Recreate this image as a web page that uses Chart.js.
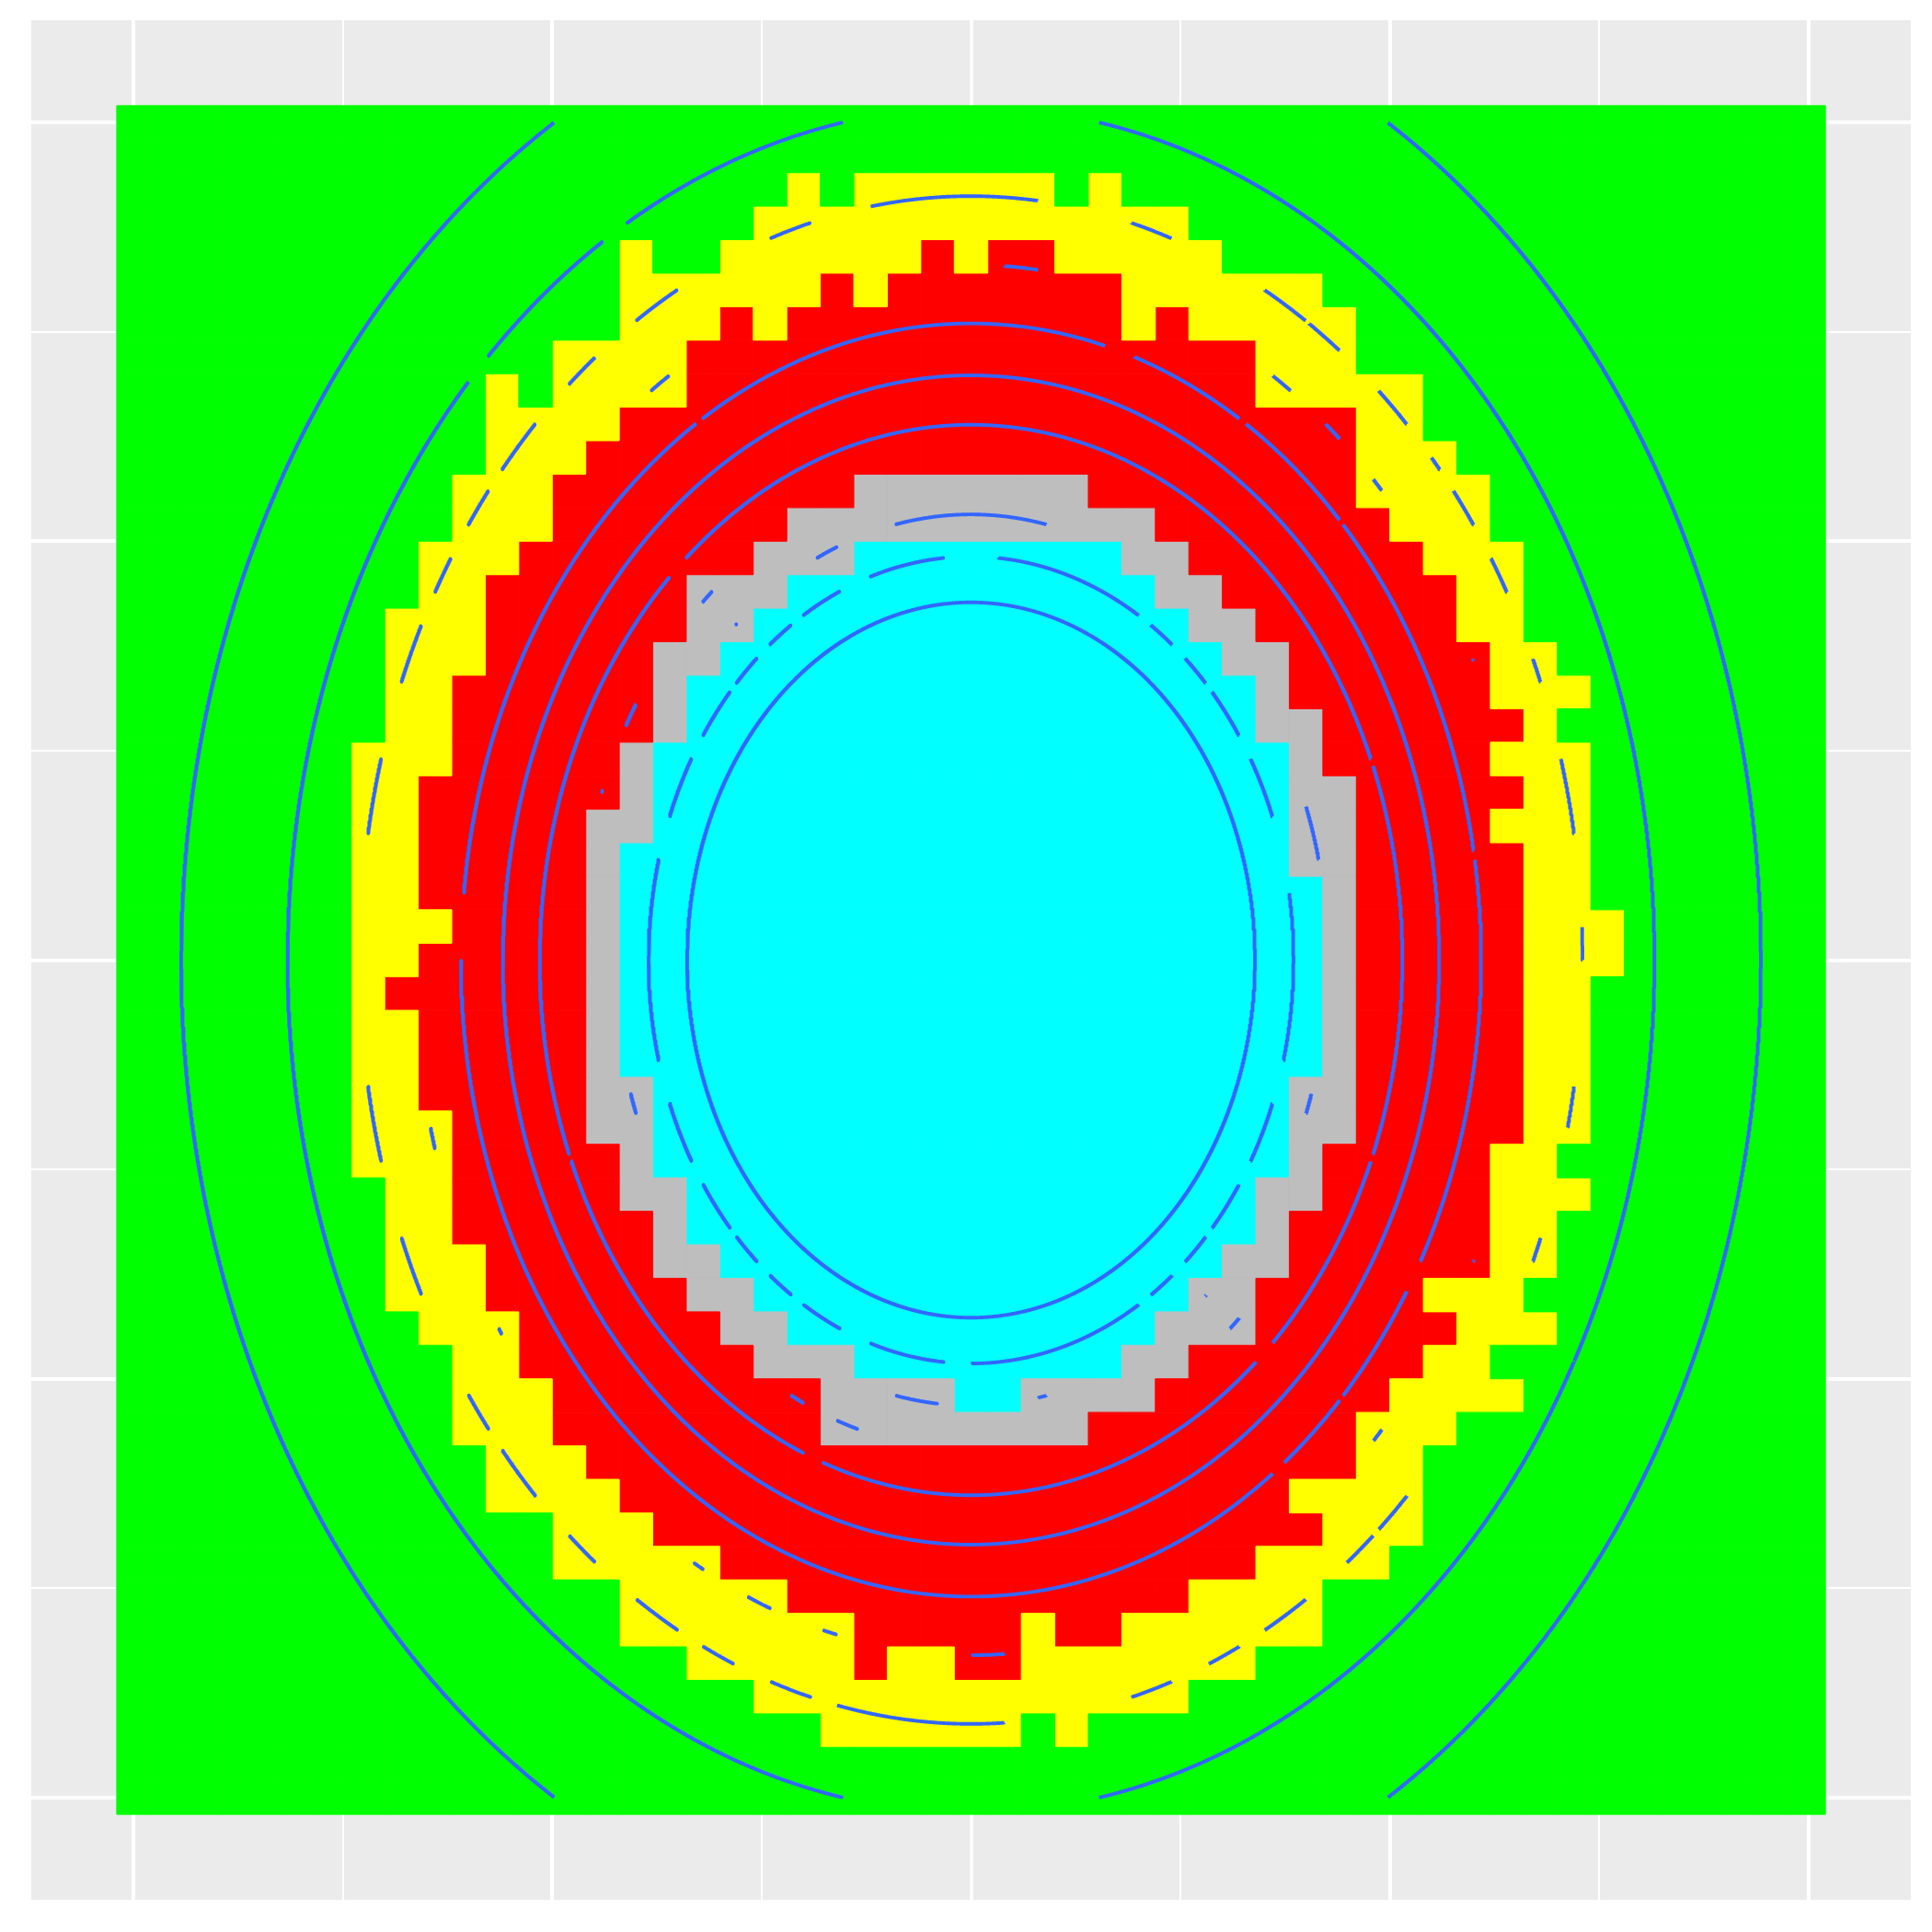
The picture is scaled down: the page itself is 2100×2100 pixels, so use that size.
<!DOCTYPE html>
<html>
<head>
<meta charset="utf-8">
<script src="https://cdn.jsdelivr.net/npm/chart.js@4.4.0/dist/chart.umd.min.js"></script>
<style>
html,body{margin:0;padding:0;background:#ffffff;}
canvas{display:block;}
</style>
</head>
<body>
<canvas id="c" width="2100" height="2100" style="width:2100px;height:2100px"></canvas>
<script>
// ---------------- data ----------------
const xCenters = [-1.00,-0.96,-0.92,-0.88,-0.84,-0.80,-0.76,-0.72,-0.68,-0.64,-0.60,-0.56,-0.52,-0.48,-0.44,-0.40,-0.36,-0.32,-0.28,-0.24,-0.20,-0.16,-0.12,-0.08,-0.04,0.00,0.04,0.08,0.12,0.16,0.20,0.24,0.28,0.32,0.36,0.40,0.44,0.48,0.52,0.56,0.60,0.64,0.68,0.72,0.76,0.80,0.84,0.88,0.92,0.96,1.00];
const yCenters = [1.00,0.96,0.92,0.88,0.84,0.80,0.76,0.72,0.68,0.64,0.60,0.56,0.52,0.48,0.44,0.40,0.36,0.32,0.28,0.24,0.20,0.16,0.12,0.08,0.04,0.00,-0.04,-0.08,-0.12,-0.16,-0.20,-0.24,-0.28,-0.32,-0.36,-0.40,-0.44,-0.48,-0.52,-0.56,-0.60,-0.64,-0.68,-0.72,-0.76,-0.80,-0.84,-0.88,-0.92,-0.96,-1.00];
const gridBreaks = [-1,-0.75,-0.5,-0.25,0,0.25,0.5,0.75,1];
const fillClasses = ['G','Y','R','S','C'];
// one string per tile row (top row first), one letter per tile column
const tileRows = [
"GGGGGGGGGGGGGGGGG"+"GGGGGGGGGGGGGGGGG"+"GGGGGGGGGGGGGGGGG",
"GGGGGGGGGGGGGGGGG"+"GGGGGGGGGGGGGGGGG"+"GGGGGGGGGGGGGGGGG",
"GGGGGGGGGGGGGGGGG"+"GGGYGYYYYYYGYGGGG"+"GGGGGGGGGGGGGGGGG",
"GGGGGGGGGGGGGGGGG"+"GGYYYYYYYYYYYYYGG"+"GGGGGGGGGGGGGGGGG",
"GGGGGGGGGGGGGGGYG"+"GYYYYYYRYRRYYYYYG"+"GGGGGGGGGGGGGGGGG",
"GGGGGGGGGGGGGGGYY"+"YYYYRYRRRRRRRYYYY"+"YYGGGGGGGGGGGGGGG",
"GGGGGGGGGGGGGGGYY"+"YRYRRRRRRRRRRYRYY"+"YYYGGGGGGGGGGGGGG",
"GGGGGGGGGGGGGYYYY"+"RRRRRRRRRRRRRRRRR"+"YYYGGGGGGGGGGGGGG",
"GGGGGGGGGGGYGYYYY"+"RRRRRRRRRRRRRRRRR"+"YYYYYGGGGGGGGGGGG",
"GGGGGGGGGGGYYYYRR"+"RRRRRRRRRRRRRRRRR"+"RRRYYGGGGGGGGGGGG",
"GGGGGGGGGGGYYYRRR"+"RRRRRRRRRRRRRRRRR"+"RRRYYYGGGGGGGGGGG",
"GGGGGGGGGGYYYRRRR"+"RRRRRSSSSSSSRRRRR"+"RRRYYYYGGGGGGGGGG",
"GGGGGGGGGGYYYRRRR"+"RRRSSSSSSSSSSSRRR"+"RRRRYYYGGGGGGGGGG",
"GGGGGGGGGYYYRRRRR"+"RRSSSCCCCCCCCSSRR"+"RRRRRYYYGGGGGGGGG",
"GGGGGGGGGYYRRRRRR"+"SSSCCCCCCCCCCCSSR"+"RRRRRRYYGGGGGGGGG",
"GGGGGGGGYYYRRRRRR"+"SSCCCCCCCCCCCCCSS"+"RRRRRRYYGGGGGGGGG",
"GGGGGGGGYYYRRRRRS"+"SCCCCCCCCCCCCCCCS"+"SRRRRRRYYGGGGGGGG",
"GGGGGGGGYYRRRRRRS"+"CCCCCCCCCCCCCCCCC"+"SRRRRRRYYYGGGGGGG",
"GGGGGGGGYYRRRRRRS"+"CCCCCCCCCCCCCCCCC"+"SSRRRRRRYGGGGGGGG",
"GGGGGGGYYYRRRRRSC"+"CCCCCCCCCCCCCCCCC"+"CSRRRRRYYYGGGGGGG",
"GGGGGGGYYRRRRRRSC"+"CCCCCCCCCCCCCCCCC"+"CSSRRRRRYYGGGGGGG",
"GGGGGGGYYRRRRRSSC"+"CCCCCCCCCCCCCCCCC"+"CSSRRRRYYYGGGGGGG",
"GGGGGGGYYRRRRRSCC"+"CCCCCCCCCCCCCCCCC"+"CSSRRRRRYYGGGGGGG",
"GGGGGGGYYRRRRRSCC"+"CCCCCCCCCCCCCCCCC"+"CCSRRRRRYYGGGGGGG",
"GGGGGGGYYYRRRRSCC"+"CCCCCCCCCCCCCCCCC"+"CCSRRRRRYYYGGGGGG",
"GGGGGGGYYRRRRRSCC"+"CCCCCCCCCCCCCCCCC"+"CCSRRRRRYYYGGGGGG",
"GGGGGGGYRRRRRRSCC"+"CCCCCCCCCCCCCCCCC"+"CCSRRRRRYYGGGGGGG",
"GGGGGGGYYRRRRRSCC"+"CCCCCCCCCCCCCCCCC"+"CCSRRRRRYYGGGGGGG",
"GGGGGGGYYRRRRRSCC"+"CCCCCCCCCCCCCCCCC"+"CCSRRRRRYYGGGGGGG",
"GGGGGGGYYRRRRRSSC"+"CCCCCCCCCCCCCCCCC"+"CSSRRRRRYYGGGGGGG",
"GGGGGGGYYYRRRRSSC"+"CCCCCCCCCCCCCCCCC"+"CSSRRRRRYYGGGGGGG",
"GGGGGGGYYYRRRRRSC"+"CCCCCCCCCCCCCCCCC"+"CSRRRRRYYGGGGGGGG",
"GGGGGGGGYYRRRRRSS"+"CCCCCCCCCCCCCCCCC"+"SSRRRRRYYYGGGGGGG",
"GGGGGGGGYYRRRRRRS"+"CCCCCCCCCCCCCCCCC"+"SRRRRRRYYGGGGGGGG",
"GGGGGGGGYYYRRRRRS"+"SCCCCCCCCCCCCCCCS"+"SRRRRRRYYGGGGGGGG",
"GGGGGGGGYYYRRRRRR"+"SSCCCCCCCCCCCCCSS"+"RRRRRYYYGGGGGGGGG",
"GGGGGGGGGYYYRRRRR"+"RSSCCCCCCCCCCCSSS"+"RRRRRRYYYGGGGGGGG",
"GGGGGGGGGGYYRRRRR"+"RRSSSCCCCCCCCSSRR"+"RRRRRYYGGGGGGGGGG",
"GGGGGGGGGGYYYRRRR"+"RRRRSSSSCCSSSSRRR"+"RRRRYYYYGGGGGGGGG",
"GGGGGGGGGGYYYRRRR"+"RRRRSSSSSSSSRRRRR"+"RRRYYYGGGGGGGGGGG",
"GGGGGGGGGGGYYYRRR"+"RRRRRRRRRRRRRRRRR"+"RRRYYGGGGGGGGGGGG",
"GGGGGGGGGGGYYYYRR"+"RRRRRRRRRRRRRRRRR"+"RYYYYGGGGGGGGGGGG",
"GGGGGGGGGGGGGYYYR"+"RRRRRRRRRRRRRRRRR"+"RRYYYGGGGGGGGGGGG",
"GGGGGGGGGGGGGYYYY"+"YRRRRRRRRRRRRRRRR"+"YYYYGGGGGGGGGGGGG",
"GGGGGGGGGGGGGGGYY"+"YYYRRRRRRRRRRRRYY"+"YYGGGGGGGGGGGGGGG",
"GGGGGGGGGGGGGGGYY"+"YYYYYRRRRRYRRYYYY"+"YYGGGGGGGGGGGGGGG",
"GGGGGGGGGGGGGGGGG"+"YYYYYRYYRRYYYYYYY"+"GGGGGGGGGGGGGGGGG",
"GGGGGGGGGGGGGGGGG"+"GGYYYYYYYYYYYYYGG"+"GGGGGGGGGGGGGGGGG",
"GGGGGGGGGGGGGGGGG"+"GGGGYYYYYYGYGGGGG"+"GGGGGGGGGGGGGGGGG",
"GGGGGGGGGGGGGGGGG"+"GGGGGGGGGGGGGGGGG"+"GGGGGGGGGGGGGGGGG",
"GGGGGGGGGGGGGGGGG"+"GGGGGGGGGGGGGGGGG"+"GGGGGGGGGGGGGGGGG"
];
// contour rings (semi-axes in data units), innermost first
const contourRx = [0.339, 0.385, 0.426, 0.469, 0.515, 0.559, 0.609, 0.665, 0.730, 0.816, 0.943];
const contourRy = [0.427, 0.4817, 0.532, 0.585, 0.639, 0.698, 0.760, 0.830, 0.912, 1.018, 1.177];
const axisLimit = 1.122;

// ---------------- styles ----------------
const fillColors = {G:'#00FF00', Y:'#FFFF00', R:'#FF0000', S:'#BEBEBE', C:'#00FFFF'};
const contourColor = '#3366FF';

// ---------------- build datasets ----------------
const step = xCenters[1] - xCenters[0];
const nCols = xCenters.length, nRows = yCenters.length;

const tileRadius = (ctx) => {
  const s = ctx.chart.scales.x;
  const half = Math.abs(s.getPixelForValue(xCenters[1]) - s.getPixelForValue(xCenters[0])) / 2;
  return half * Math.SQRT2;
};

const tileDatasets = fillClasses.map(cls => {
  const pts = [];
  tileRows.forEach((row, r) => {
    for (let c = 0; c < row.length; c++) {
      if (row[c] === cls) pts.push({x: xCenters[c], y: yCenters[r]});
    }
  });
  return {
    label: cls,
    data: pts,
    order: 1,
    showLine: false,
    pointStyle: 'rect',
    pointRadius: tileRadius,
    pointHoverRadius: tileRadius,
    pointBackgroundColor: fillColors[cls],
    pointBorderColor: fillColors[cls],
    pointBorderWidth: 1,
    pointHoverBorderWidth: 1
  };
});

// contours are computed per fill group: a piece of contour exists only in
// grid cells whose four corner tiles belong to the same fill class
function cellVisible(x, y) {
  const i = Math.floor((x - xCenters[0]) / step);
  const j = Math.floor((yCenters[0] - y) / step);
  if (i < 0 || j < 0 || i >= nCols - 1 || j >= nRows - 1) return false;
  const a = tileRows[j][i];
  return tileRows[j][i + 1] === a && tileRows[j + 1][i] === a && tileRows[j + 1][i + 1] === a;
}

const contourDatasets = contourRx.map((rx, k) => {
  const ry = contourRy[k];
  const pts = [];
  const N = 6000;
  let prevVis = false;
  for (let n = 0; n <= N; n++) {
    const t = 2 * Math.PI * n / N;
    const x = rx * Math.cos(t), y = ry * Math.sin(t);
    const vis = cellVisible(x, y);
    if (vis) {
      pts.push({x, y});
    } else if (prevVis) {
      pts.push({x: null, y: null});
    }
    prevVis = vis;
  }
  return {
    label: 'contour' + k,
    data: pts,
    order: 0,
    showLine: true,
    spanGaps: false,
    pointRadius: 0,
    pointHoverRadius: 0,
    borderColor: contourColor,
    borderWidth: 3.9,
    borderCapStyle: 'butt',
    borderJoinStyle: 'round',
    fill: false,
    tension: 0
  };
});

const panelBg = {
  id: 'panelBg',
  beforeDraw(chart) {
    const {ctx, chartArea: a} = chart;
    ctx.save();
    ctx.fillStyle = '#EBEBEB';
    ctx.fillRect(a.left, a.top, a.right - a.left, a.bottom - a.top);
    ctx.restore();
  }
};

const gridScale = () => ({
  type: 'linear',
  min: -axisLimit,
  max: axisLimit,
  afterBuildTicks: (s) => { s.ticks = gridBreaks.map(v => ({value: v})); },
  ticks: {display: false},
  border: {display: false},
  grid: {
    color: '#FFFFFF',
    drawTicks: false,
    lineWidth: (ctx) => (ctx.tick && Math.abs(ctx.tick.value * 2 - Math.round(ctx.tick.value * 2)) < 1e-9) ? 3.94 : 1.97
  }
});

new Chart(document.getElementById('c'), {
  type: 'scatter',
  data: {datasets: [...contourDatasets, ...tileDatasets]},
  options: {
    responsive: false,
    animation: false,
    devicePixelRatio: 1,
    events: [],
    layout: {padding: {left: 34, top: 22, right: 23, bottom: 35}},
    plugins: {legend: {display: false}, tooltip: {enabled: false}},
    scales: {x: gridScale(), y: gridScale()}
  },
  plugins: [panelBg]
});
</script>
</body>
</html>
